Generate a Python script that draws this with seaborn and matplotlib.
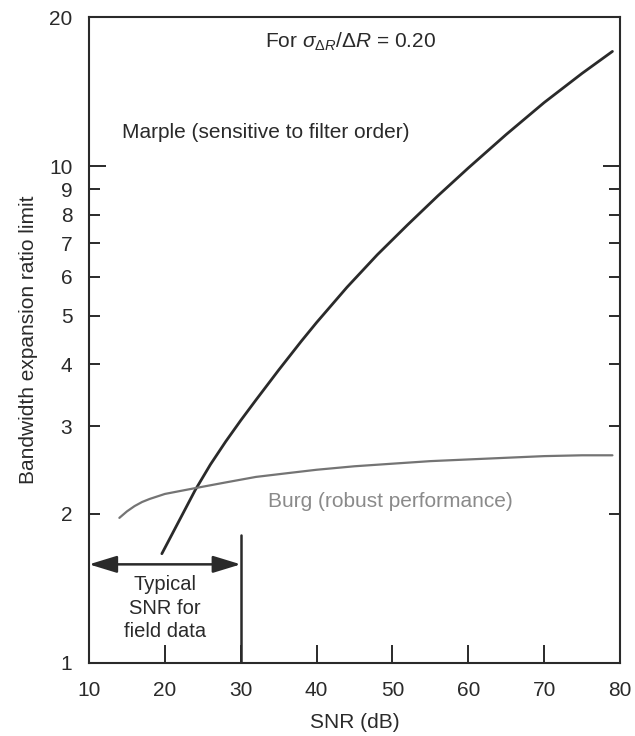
import matplotlib
matplotlib.use("Agg")
import matplotlib.pyplot as plt
import pandas as pd
import seaborn as sns
from matplotlib.ticker import FixedLocator, FuncFormatter

# Marple estimator: bandwidth expansion limit vs SNR (steep, order sensitive)
snr_marple = [19.6, 22, 24, 26, 28, 30, 32, 35, 38, 40, 44, 48, 52, 56, 60,
              65, 70, 75, 79]
ratio_marple = [1.66, 1.95, 2.23, 2.51, 2.79, 3.08, 3.385, 3.89, 4.45, 4.85, 5.71,
                6.64, 7.63, 8.73, 9.93, 11.6, 13.45, 15.4, 17.05]

# Burg estimator: flat, robust curve
snr_burg = [14, 15, 16, 17, 18, 20, 22, 24, 28, 32, 36, 40, 45, 50, 55, 60, 65,
            70, 75, 79]
ratio_burg = [1.96, 2.02, 2.07, 2.11, 2.14, 2.19, 2.22, 2.25, 2.31, 2.37, 2.41,
              2.45, 2.49, 2.52, 2.55, 2.57, 2.59, 2.61, 2.62, 2.62]

# Typical field-data SNR range marker
field_snr_range = [10, 30]
field_arrow_level = 1.58
field_bar_top = 1.81

x_ticks = [10, 20, 30, 40, 50, 60, 70, 80]
y_major = [1, 10, 20]
y_minor = [2, 3, 4, 5, 6, 7, 8, 9]

sns.set_style("white")
plt.rcParams["font.family"] = ["Liberation Sans", "DejaVu Sans"]
plt.rcParams["mathtext.fontset"] = "custom"
plt.rcParams["mathtext.rm"] = "Liberation Sans"
plt.rcParams["mathtext.it"] = "Liberation Sans:italic"
plt.rcParams["mathtext.bf"] = "Liberation Sans:bold"

ink = "#2a2a2a"
gray = "#747474"

df_marple = pd.DataFrame({"snr": snr_marple, "ratio": ratio_marple})
df_burg = pd.DataFrame({"snr": snr_burg, "ratio": ratio_burg})

fig = plt.figure(figsize=(6.35, 7.36), dpi=100)
ax = fig.add_axes([0.1402, 0.0992, 0.8362, 0.8777])

sns.lineplot(data=df_marple, x="snr", y="ratio", ax=ax, color=ink, lw=2.0)
sns.lineplot(data=df_burg, x="snr", y="ratio", ax=ax, color=gray, lw=1.6)

ax.set_yscale("log")
ax.set_xlim(10, 80)
ax.set_ylim(1, 20)

ax.xaxis.set_major_locator(FixedLocator(x_ticks))
ax.yaxis.set_major_locator(FixedLocator(y_major))
ax.yaxis.set_minor_locator(FixedLocator(y_minor))
fmt = FuncFormatter(lambda v, p: f"{v:g}")
ax.yaxis.set_major_formatter(fmt)
ax.yaxis.set_minor_formatter(fmt)

for s in ax.spines.values():
    s.set_color(ink)
    s.set_linewidth(1.5)

ax.tick_params(axis="x", which="major", direction="in", length=13, width=1.4,
               colors=ink, labelsize=15, pad=13, top=False, bottom=True)
ax.tick_params(axis="y", which="major", direction="in", length=12.5, width=1.4,
               colors=ink, labelsize=15, pad=12, left=True, right=True)
ax.tick_params(axis="y", which="minor", direction="in", length=8, width=1.4,
               colors=ink, labelsize=15, pad=12, left=True, right=True)

ax.set_xlabel("SNR (dB)", fontsize=15, color=ink, labelpad=9)
ax.set_ylabel("Bandwidth expansion ratio limit", fontsize=15, color=ink, labelpad=8)

# Annotations
ax.text(33.2, 17.8, r"For $\sigma_{\Delta R}/\Delta R$ = 0.20", fontsize=15,
        color=ink, ha="left", va="center")
ax.text(14.35, 11.7, "Marple (sensitive to filter order)", fontsize=15,
        color=ink, ha="left", va="center")
ax.text(33.6, 2.11, "Burg (robust performance)", fontsize=15,
        color="#8a8a8a", ha="left", va="center")

ax.annotate("", xy=(field_snr_range[0], field_arrow_level),
            xytext=(field_snr_range[1], field_arrow_level),
            arrowprops=dict(arrowstyle="<|-|>,head_length=0.85,head_width=0.26",
                            color=ink, lw=1.8, mutation_scale=20,
                            shrinkA=0, shrinkB=0))
ax.plot([field_snr_range[1], field_snr_range[1]], [1, field_bar_top],
        color=ink, lw=1.8)
ax.text(sum(field_snr_range) / 2, 1.29, "Typical\nSNR for\nfield data",
        fontsize=14.5, color=ink, ha="center", va="center", linespacing=1.3)

fig.savefig("out.png", dpi=100)
